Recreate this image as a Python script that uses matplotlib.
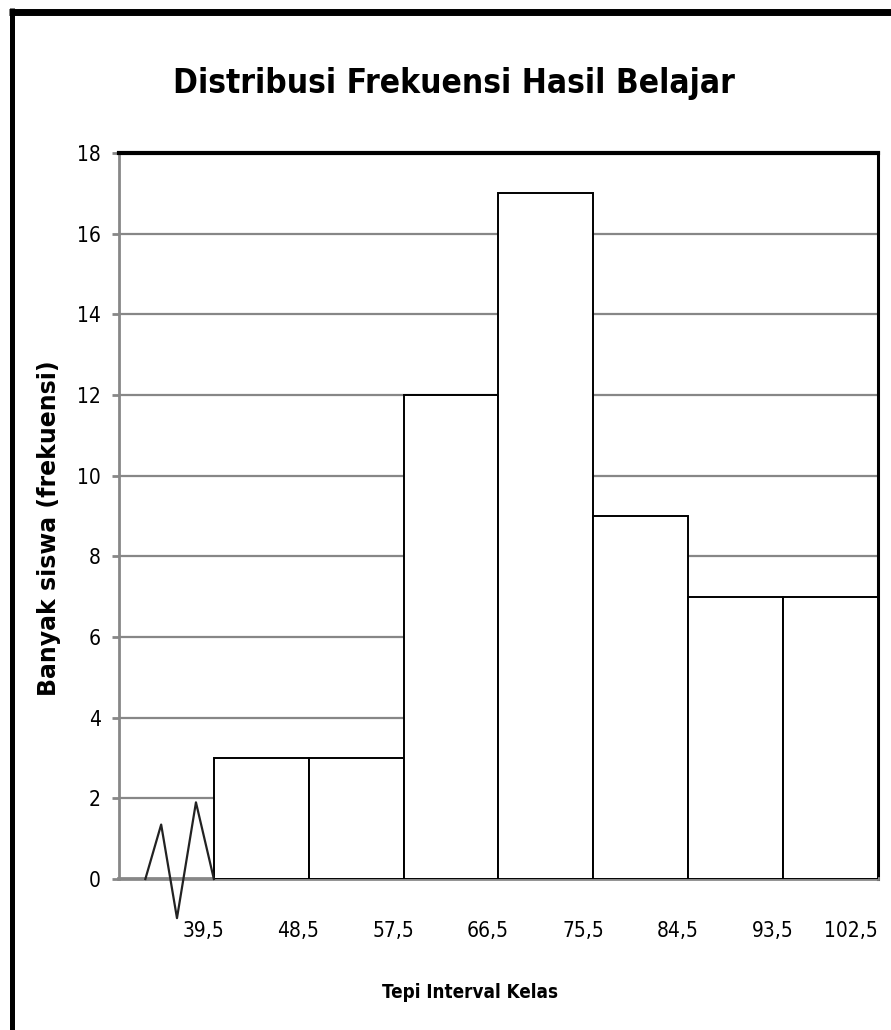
import numpy as np
import matplotlib
matplotlib.use("Agg")
import matplotlib.pyplot as plt
from matplotlib.lines import Line2D

# Class boundaries and frequencies
edges = [39.5, 48.5, 57.5, 66.5, 75.5, 84.5, 93.5]
freq = [3, 3, 12, 17, 9, 7, 7]
tick_edges = [39.5, 48.5, 57.5, 66.5, 75.5, 84.5, 93.5, 102.5]
tick_labels = ["39,5", "48,5", "57,5", "66,5", "75,5", "84,5", "93,5", "102,5"]
width = 9

# Axis break zigzag before the first class
zig_x = [33.0, 34.5, 36.0, 37.8, 39.5]
zig_y = [0, 1.35, -0.97, 1.9, 0]

font = "DejaVu Sans"
grid_col = "#878787"

fig = plt.figure(figsize=(8.91, 10.30), dpi=100)
ax = fig.add_axes([119 / 891, 1 - 879 / 1030, (878 - 119) / 891, (879 - 153) / 1030])

ax.bar(edges, freq, width=width, align="edge", color="white",
       edgecolor="black", linewidth=1.4, zorder=3)
ax.plot(zig_x, zig_y, color="#222222", linewidth=1.6, zorder=4, clip_on=False)

ax.set_xlim(30.5, 102.5)
ax.set_ylim(0, 18)
ax.set_yticks(np.arange(0, 19, 2))
ax.yaxis.grid(True, color=grid_col, linewidth=1.6, zorder=0)
ax.set_axisbelow(True)

# category labels sit just left of each class boundary
ax.set_xticks([])
for x, lab in zip(tick_edges, tick_labels):
    ax.text(min(x + 1.0, 102.5), -1.3, lab, ha="right", va="center",
            fontsize=15, family=font, stretch="condensed")

ax.tick_params(axis="y", direction="out", length=5, width=2, color=grid_col,
               labelsize=15, pad=8)
for t in ax.get_yticklabels():
    t.set_family(font)
    t.set_stretch("condensed")

ax.spines["left"].set_color(grid_col)
ax.spines["left"].set_linewidth(2)
ax.spines["bottom"].set_color(grid_col)
ax.spines["bottom"].set_linewidth(2.7)
ax.spines["top"].set_color("black")
ax.spines["top"].set_linewidth(3)
ax.spines["right"].set_color("black")
ax.spines["right"].set_linewidth(2.2)

fig.text(454 / 891, 1 - 93 / 1030, "Distribusi Frekuensi Hasil Belajar",
         ha="center", va="baseline", fontsize=24, fontweight="bold",
         family=font, stretch="condensed")
fig.text(470 / 891, 1 - 998 / 1030, "Tepi Interval Kelas",
         ha="center", va="baseline", fontsize=13.5, fontweight="bold",
         family=font, stretch="condensed")
fig.text(49 / 891, 1 - 528 / 1030, "Banyak siswa (frekuensi)",
         ha="center", va="center", rotation=90, fontsize=17, fontweight="bold",
         family=font)

# Outer chart frame (left and top edges)
fig.add_artist(Line2D([11.5 / 891, 11.5 / 891], [0, 1 - 8 / 1030],
                      transform=fig.transFigure, color="black", linewidth=3.6,
                      solid_capstyle="butt"))
fig.add_artist(Line2D([9 / 891, 1], [1 - 11.5 / 1030, 1 - 11.5 / 1030],
                      transform=fig.transFigure, color="black", linewidth=5,
                      solid_capstyle="butt"))

fig.savefig("out.png", dpi=100)
